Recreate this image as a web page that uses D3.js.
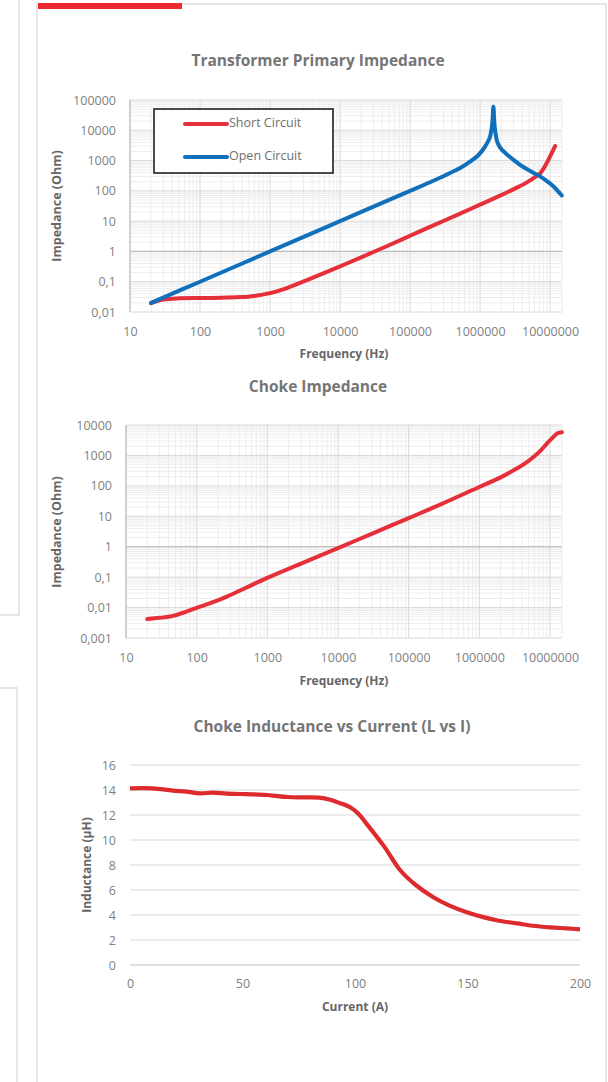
<!DOCTYPE html>
<html>
<head>
<meta charset="utf-8">
<script src="https://cdn.jsdelivr.net/npm/d3@7"></script>
<style>
  html, body { margin: 0; padding: 0; background: #fff; }
  svg { display: block; }
  text { font-family: "Open Sans", "DejaVu Sans", sans-serif; }
</style>
</head>
<body>
<svg id="chart" width="608" height="1082"></svg>
<script>
// ---------------- DATA ----------------
// Chart 1: Transformer Primary Impedance
const scFreq = [20, 27, 40, 52, 100, 200, 375, 600, 1000, 1500, 2000, 3300, 5000, 10000, 20000, 50000, 100000, 200000, 500000, 1000000, 2000000, 2700000, 3600000, 4600000, 5800000, 7200000, 8900000, 10500000, 11800000];
const scZ    = [0.0195, 0.025, 0.0275, 0.0285, 0.029, 0.0295, 0.031, 0.034, 0.042, 0.055, 0.07, 0.11, 0.165, 0.32, 0.64, 1.6, 3.3, 6.7, 17, 35, 72, 100, 138, 187, 265, 380, 810, 1740, 3000];
const ocFreq = [20, 100, 1000, 10000, 100000, 215000, 400000, 520000, 720000, 950000, 1150000, 1320000, 1390000, 1450000, 1500000, 1550000, 1600000, 1650000, 1730000, 1850000, 2040000, 2400000, 3000000, 4200000, 5500000, 7200000, 9000000, 11200000, 14700000];
const ocZ    = [0.02, 0.1, 1, 10, 100, 215, 420, 570, 920, 1530, 2650, 4600, 6200, 10000, 18000, 60000, 18000, 9000, 4800, 3200, 2300, 1630, 1060, 600, 420, 300, 210, 140, 70];
const seriesNames1 = ["Short Circuit", "Open Circuit"];

// Chart 2: Choke Impedance
const chokeFreq = [20, 30, 47, 70, 100, 170, 267, 500, 980, 3000, 10000, 30000, 100000, 300000, 1000000, 2000000, 3100000, 4500000, 5900000, 7500000, 9100000, 11000000, 12600000, 14800000];
const chokeZ    = [0.0042, 0.0046, 0.0054, 0.0072, 0.0098, 0.015, 0.023, 0.045, 0.093, 0.28, 0.9, 2.65, 8.7, 26, 92, 190, 330, 560, 910, 1500, 2500, 3900, 5300, 5800];

// Chart 3: Choke Inductance vs Current
const current    = [0, 10, 19, 25, 31, 37, 43, 49, 61, 70, 77, 84, 89, 93, 98, 101.5, 105, 113, 120, 127, 135, 142, 150, 157, 164, 172, 179, 187, 194, 200];
const inductance = [14.13, 14.13, 13.95, 13.87, 13.73, 13.79, 13.71, 13.68, 13.6, 13.44, 13.41, 13.39, 13.22, 12.97, 12.6, 12.1, 11.33, 9.47, 7.6, 6.4, 5.4, 4.75, 4.2, 3.83, 3.54, 3.33, 3.14, 3.01, 2.93, 2.85];

// Tick values / labels
const freqTicks  = [10, 100, 1000, 10000, 100000, 1000000, 10000000];
const freqLabels = ["10", "100", "1000", "10000", "100000", "1000000", "10000000"];
const z1Ticks  = [100000, 10000, 1000, 100, 10, 1, 0.1, 0.01];
const z1Labels = ["100000", "10000", "1000", "100", "10", "1", "0,1", "0,01"];
const z2Ticks  = [10000, 1000, 100, 10, 1, 0.1, 0.01, 0.001];
const z2Labels = ["10000", "1000", "100", "10", "1", "0,1", "0,01", "0,001"];
const iTicks  = [0, 50, 100, 150, 200];
const lTicks  = [0, 2, 4, 6, 8, 10, 12, 14, 16];

// ---------------- STYLE ----------------
const RED = "#e5303a", RED3 = "#dc2a2d", BLUE = "#1170bb";
const MAJOR = "#d9d9d9", MINOR = "#ededed", AXIS = "#bfbfbf";
const TICK_COL = "#7f7f7f", TITLE_COL = "#757575", AXT_COL = "#666666";
const TICK_FS = "12.5px", TITLE_FS = "15.5px", AXT_FS = "12px";

const svg = d3.select("#chart");

// Page panels
svg.append("rect").attr("x", -10).attr("y", -10).attr("width", 29).attr("height", 625)
  .attr("fill", "#fff").attr("stroke", "#e6e6e6").attr("stroke-width", 2);
svg.append("rect").attr("x", -10).attr("y", 688).attr("width", 27).attr("height", 500)
  .attr("fill", "#fff").attr("stroke", "#e6e6e6").attr("stroke-width", 2);
svg.append("rect").attr("x", 37).attr("y", 4).attr("width", 569).attr("height", 1200)
  .attr("fill", "#fff").attr("stroke", "#e6e6e6").attr("stroke-width", 2);
svg.append("rect").attr("x", 38).attr("y", 3).attr("width", 144).attr("height", 6).attr("fill", "#ee2a2e");

function minorValues(domain) {
  const out = [];
  const lo = Math.floor(Math.log10(domain[0])), hi = Math.ceil(Math.log10(domain[1]));
  for (let e = lo; e <= hi; e++) {
    for (let m = 2; m <= 9; m++) {
      const v = m * Math.pow(10, e);
      if (v > domain[0] && v < domain[1]) out.push(v);
    }
  }
  return out;
}

const smooth = d3.curveCatmullRom.alpha(0.5);

function styleTicks(sel) {
  sel.selectAll("text").attr("fill", TICK_COL).style("font-size", TICK_FS)
    .style("font-family", '"Open Sans", sans-serif');
}

function logChart(cfg) {
  const g = svg.append("g");
  const x = d3.scaleLog().domain(cfg.xDomain).range([cfg.left, cfg.right]);
  const y = d3.scaleLog().domain(cfg.yDomain).range([cfg.bottom, cfg.top]);

  // minor grid
  minorValues(cfg.xDomain).forEach(v => {
    g.append("line").attr("x1", x(v)).attr("x2", x(v)).attr("y1", cfg.top).attr("y2", cfg.bottom)
      .attr("stroke", MINOR).attr("stroke-width", 1);
  });
  minorValues(cfg.yDomain).forEach(v => {
    g.append("line").attr("x1", cfg.left).attr("x2", cfg.right).attr("y1", y(v)).attr("y2", y(v))
      .attr("stroke", MINOR).attr("stroke-width", 1);
  });
  // major grid
  freqTicks.forEach(v => {
    g.append("line").attr("x1", x(v)).attr("x2", x(v)).attr("y1", cfg.top).attr("y2", cfg.bottom)
      .attr("stroke", MAJOR).attr("stroke-width", 1);
  });
  cfg.yTicks.forEach(v => {
    g.append("line").attr("x1", cfg.left).attr("x2", cfg.right).attr("y1", y(v)).attr("y2", y(v))
      .attr("stroke", MAJOR).attr("stroke-width", 1);
  });
  // right edge
  g.append("line").attr("x1", cfg.right).attr("x2", cfg.right).attr("y1", cfg.top).attr("y2", cfg.bottom)
    .attr("stroke", MINOR).attr("stroke-width", 1);
  // axis lines (horizontal axis crosses at 1)
  g.append("line").attr("x1", cfg.left).attr("x2", cfg.right).attr("y1", y(1)).attr("y2", y(1))
    .attr("stroke", AXIS).attr("stroke-width", 1.2);
  g.append("line").attr("x1", cfg.left).attr("x2", cfg.left).attr("y1", cfg.top).attr("y2", cfg.bottom)
    .attr("stroke", AXIS).attr("stroke-width", 1.2);

  // axes labels
  const yAxis = d3.axisLeft(y).tickValues(cfg.yTicks)
    .tickFormat((d, i) => cfg.yLabels[i]).tickSize(0).tickPadding(14);
  g.append("g").attr("transform", `translate(${cfg.left},0)`).call(yAxis)
    .call(s => s.select(".domain").remove()).call(styleTicks);
  const xAxis = d3.axisBottom(x).tickValues(freqTicks)
    .tickFormat((d, i) => freqLabels[i]).tickSize(0).tickPadding(cfg.xPad);
  g.append("g").attr("transform", `translate(0,${cfg.bottom})`).call(xAxis)
    .call(s => s.select(".domain").remove()).call(styleTicks);

  // titles
  g.append("text").attr("x", cfg.titleX).attr("y", cfg.titleY).attr("text-anchor", "middle")
    .attr("dominant-baseline", "middle").attr("fill", TITLE_COL)
    .style("font-size", TITLE_FS).style("font-weight", "bold").text(cfg.title);
  g.append("text").attr("x", cfg.xTitleX).attr("y", cfg.xTitleY).attr("text-anchor", "middle")
    .attr("dominant-baseline", "middle").attr("fill", AXT_COL)
    .style("font-size", AXT_FS).style("font-weight", "bold").text("Frequency (Hz)");
  g.append("text").attr("transform", `translate(${cfg.yTitleX},${cfg.yTitleY}) rotate(-90)`)
    .attr("text-anchor", "middle").attr("dominant-baseline", "middle").attr("fill", AXT_COL)
    .style("font-size", "12.5px").style("font-weight", "bold").text("Impedance (Ohm)");

  // series
  cfg.series.forEach(s => {
    const line = d3.line().x(d => x(d[0])).y(d => y(d[1])).curve(smooth);
    g.append("path").datum(d3.zip(s.xs, s.ys)).attr("d", line)
      .attr("fill", "none").attr("stroke", s.color).attr("stroke-width", 4)
      .attr("stroke-linecap", "round").attr("stroke-linejoin", "round");
  });
  return g;
}

// Chart 1
logChart({
  left: 130, right: 562, top: 100, bottom: 312,
  xDomain: [10, 1.48e7], yDomain: [0.01, 100000],
  yTicks: z1Ticks, yLabels: z1Labels, xPad: 15,
  title: "Transformer Primary Impedance", titleX: 318, titleY: 62,
  xTitleX: 344, xTitleY: 355, yTitleX: 58, yTitleY: 206,
  series: [
    { xs: scFreq, ys: scZ, color: RED },
    { xs: ocFreq, ys: ocZ, color: BLUE }
  ]
});

// Legend chart 1
const lg = svg.append("g");
lg.append("rect").attr("x", 154).attr("y", 109).attr("width", 179).attr("height", 64)
  .attr("fill", "#fff").attr("stroke", "#111").attr("stroke-width", 1.5);
[RED, BLUE].forEach((c, i) => {
  const yy = 124 + i * 33;
  lg.append("line").attr("x1", 185).attr("x2", 227).attr("y1", yy).attr("y2", yy)
    .attr("stroke", c).attr("stroke-width", 4).attr("stroke-linecap", "round");
  lg.append("text").attr("x", 229).attr("y", yy).attr("dominant-baseline", "middle")
    .attr("fill", "#6e6e6e").style("font-size", "12.5px").text(seriesNames1[i]);
});

// Chart 2
logChart({
  left: 126, right: 562, top: 425, bottom: 638,
  xDomain: [10, 1.48e7], yDomain: [0.001, 10000],
  yTicks: z2Ticks, yLabels: z2Labels, xPad: 15,
  title: "Choke Impedance", titleX: 318, titleY: 388,
  xTitleX: 344, xTitleY: 682, yTitleX: 58, yTitleY: 532,
  series: [ { xs: chokeFreq, ys: chokeZ, color: RED } ]
});

// Chart 3
(function () {
  const g = svg.append("g");
  const left = 130, right = 580, top = 765, bottom = 965;
  const x = d3.scaleLinear().domain([0, 200]).range([left, right]);
  const y = d3.scaleLinear().domain([0, 16]).range([bottom, top]);
  lTicks.forEach(v => {
    g.append("line").attr("x1", left).attr("x2", right).attr("y1", y(v)).attr("y2", y(v))
      .attr("stroke", v === 0 ? AXIS : MAJOR).attr("stroke-width", 1.2);
  });
  g.append("g").attr("transform", `translate(${left},0)`)
    .call(d3.axisLeft(y).tickValues(lTicks).tickSize(0).tickPadding(14))
    .call(s => s.select(".domain").remove()).call(styleTicks);
  g.append("g").attr("transform", `translate(0,${bottom})`)
    .call(d3.axisBottom(x).tickValues(iTicks).tickSize(0).tickPadding(14))
    .call(s => s.select(".domain").remove()).call(styleTicks);
  g.append("text").attr("x", 332).attr("y", 728).attr("text-anchor", "middle")
    .attr("dominant-baseline", "middle").attr("fill", TITLE_COL)
    .style("font-size", TITLE_FS).style("font-weight", "bold").text("Choke Inductance vs Current (L vs I)");
  g.append("text").attr("x", 355).attr("y", 1008).attr("text-anchor", "middle")
    .attr("dominant-baseline", "middle").attr("fill", AXT_COL)
    .style("font-size", AXT_FS).style("font-weight", "bold").text("Current (A)");
  g.append("text").attr("transform", "translate(88,865) rotate(-90)")
    .attr("text-anchor", "middle").attr("dominant-baseline", "middle").attr("fill", AXT_COL)
    .style("font-size", AXT_FS).style("font-weight", "bold").text("Inductance (µH)");
  const line = d3.line().x(d => x(d[0])).y(d => y(d[1])).curve(smooth);
  g.append("path").datum(d3.zip(current, inductance)).attr("d", line)
    .attr("fill", "none").attr("stroke", RED3).attr("stroke-width", 4.2)
    .attr("stroke-linecap", "butt").attr("stroke-linejoin", "round");
})();
</script>
</body>
</html>
